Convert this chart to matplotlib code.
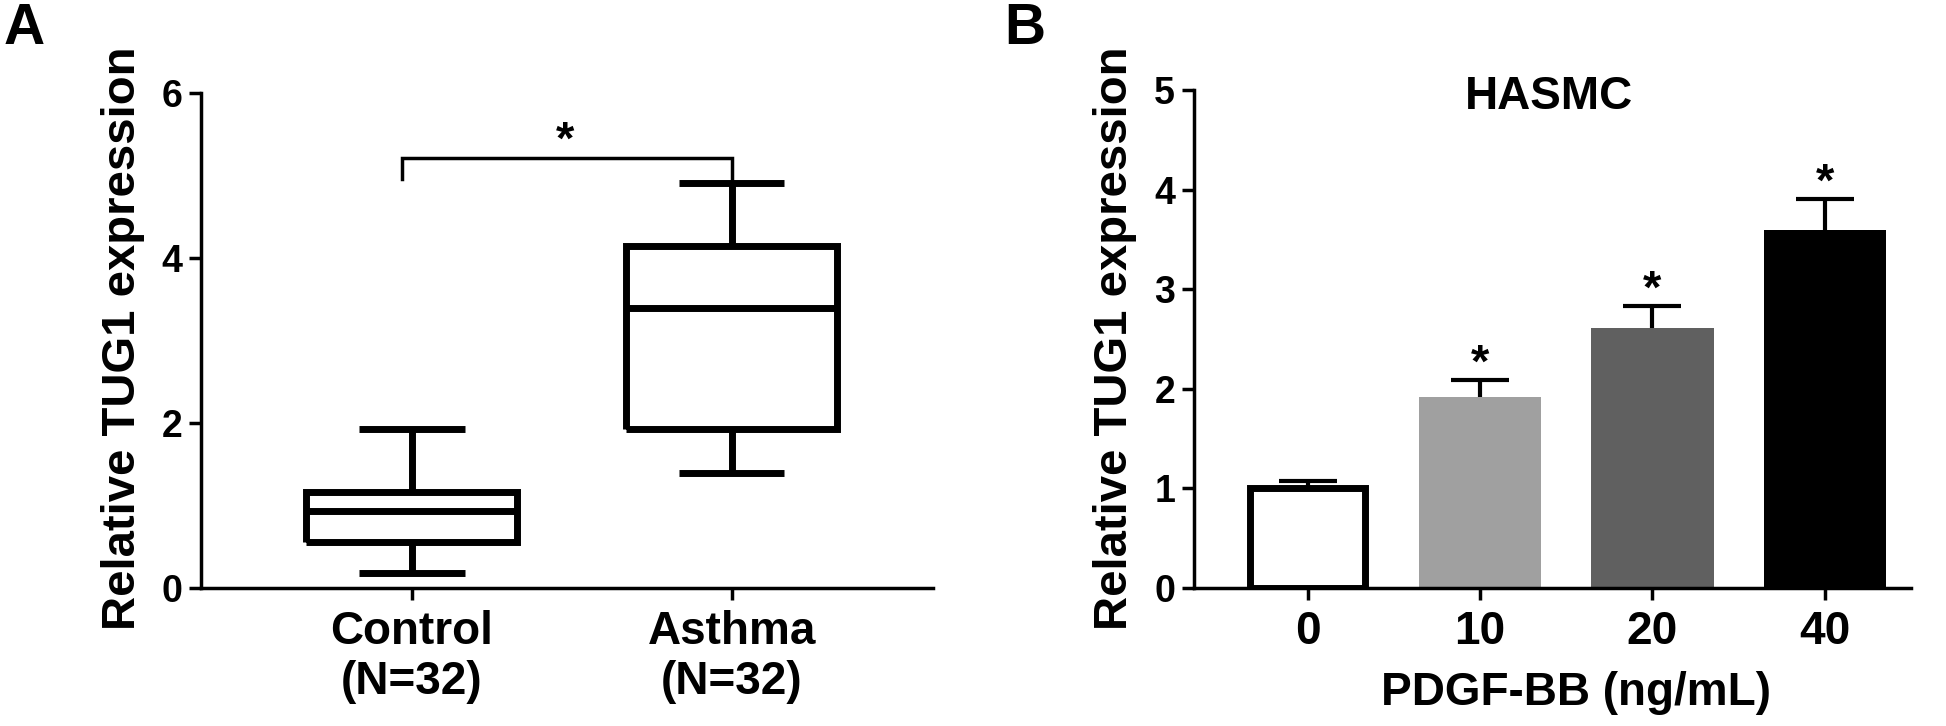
import matplotlib
matplotlib.use("Agg")
import matplotlib.pyplot as plt

plt.rcParams['font.family'] = ['Liberation Sans', 'DejaVu Sans']
plt.rcParams['font.weight'] = 'bold'

# --- data
# panel A: box plot (five-number summaries)
groups = ['Control\n(N=32)', 'Asthma\n(N=32)']
whislo = [0.18, 1.39]
q1 = [0.56, 1.93]
med = [0.93, 3.39]
q3 = [1.16, 4.15]
whishi = [1.93, 4.91]
bracket_y = 5.21
bracket_leg = 4.96

# panel B: bars + upper SD
doses = ['0', '10', '20', '40']
means = [1.0, 1.92, 2.61, 3.59]
errs = [0.07, 0.17, 0.22, 0.32]
stars = [False, True, True, True]
bar_colors = ['white', '#a0a0a0', '#606060', '#000000']

W, H = 1946, 726
fig = plt.figure(figsize=(W / 100, H / 100), dpi=100)

LW_AX = 2.5
LW_BOX = 5.0


def style_axis(ax):
    for s in ['top', 'right']:
        ax.spines[s].set_visible(False)
    for s in ['left', 'bottom']:
        ax.spines[s].set_linewidth(LW_AX)
    ax.tick_params(direction='out', length=8.6, width=LW_AX, color='black')


# ---------------- panel A
axA = fig.add_axes([201 / W, 1 - 588 / H, (933 - 201) / W, (588 - 93) / H])
stats = []
for i in range(len(groups)):
    stats.append(dict(whislo=whislo[i], q1=q1[i], med=med[i], q3=q3[i],
                      whishi=whishi[i], fliers=[], label=groups[i]))
lp = dict(color='black', linewidth=LW_BOX, solid_capstyle='butt', solid_joinstyle='miter')
axA.bxp(stats, positions=[1, 2], widths=0.66, capwidths=0.33, showfliers=False,
        boxprops=lp, whiskerprops=lp, capprops=lp, medianprops=lp)
axA.set_xlim(0.34, 2.63)
axA.set_ylim(0, 6)
axA.set_yticks([0, 2, 4, 6])
style_axis(axA)
axA.tick_params(axis='y', labelsize=27, pad=5)
axA.tick_params(axis='x', labelsize=33, pad=7)
axA.set_ylabel('Relative TUG1 expression', fontsize=34, fontweight='bold')
axA.yaxis.set_label_coords(-56 / 732, 0.505)

# significance bracket
axA.plot([0.97, 0.97, 2, 2], [bracket_leg, bracket_y, bracket_y, bracket_leg],
         color='black', lw=2.5, solid_joinstyle='miter', clip_on=False)
axA.text(1.48, bracket_y + 0.06, '*', ha='center', va='baseline', fontsize=34)

# ---------------- panel B
axB = fig.add_axes([1194 / W, 1 - 588 / H, (1911 - 1194) / W, (588 - 90) / H])
x = list(range(len(doses)))
eb = axB.errorbar(x, means, yerr=[[0] * len(errs), errs], fmt='none', ecolor='black',
                  elinewidth=3, capsize=21, capthick=3, zorder=1)
eb[1][0].set_visible(False)  # only the upper cap
for i in range(len(doses)):
    if bar_colors[i] == 'white':
        axB.bar(x[i], means[i], width=0.67, color='white', edgecolor='black',
                linewidth=LW_BOX, zorder=2)
    else:
        axB.bar(x[i], means[i], width=0.71, color=bar_colors[i], edgecolor='none', zorder=2)
    if stars[i]:
        axB.text(x[i], means[i] + errs[i] + 0.03, '*', ha='center', va='baseline', fontsize=34)
axB.set_xlim(-0.66, 3.5)
axB.set_ylim(0, 5)
axB.set_xticks(x)
axB.set_xticklabels(doses)
axB.set_yticks(range(6))
style_axis(axB)
axB.tick_params(axis='y', labelsize=27, pad=5)
axB.tick_params(axis='x', labelsize=33, pad=7)
axB.set_ylabel('Relative TUG1 expression', fontsize=34, fontweight='bold')
axB.yaxis.set_label_coords(-57 / 717, 0.502)
axB.set_xlabel('PDGF-BB (ng/mL)', fontsize=33, fontweight='bold')
axB.xaxis.label.set_va('baseline')
axB.xaxis.set_label_coords(0.533, -0.235)
axB.text(1.4, 4.81, 'HASMC', ha='center', va='baseline', fontsize=33)

for lab in axA.get_xticklabels() + axA.get_yticklabels() + axB.get_xticklabels() + axB.get_yticklabels():
    lab.set_fontweight('bold')

# panel letters
fig.text(4 / W, 1 - 44 / H, 'A', fontsize=41, ha='left', va='baseline')
fig.text(1004 / W, 1 - 44 / H, 'B', fontsize=41, ha='left', va='baseline')

fig.savefig('out.png', dpi=100)
